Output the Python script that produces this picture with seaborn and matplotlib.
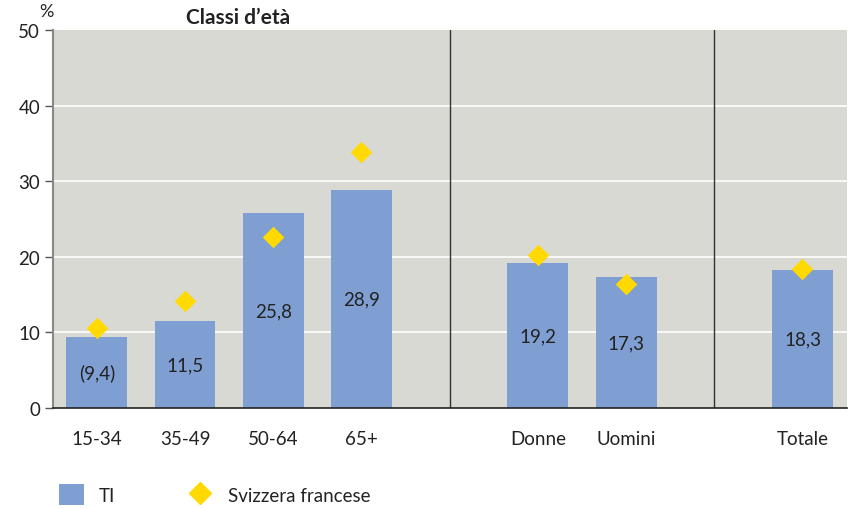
import pandas as pd
import matplotlib.pyplot as plt
import seaborn as sns
from matplotlib.patches import Patch
from matplotlib.lines import Line2D
from matplotlib.transforms import blended_transform_factory

# dati
categorie = ["15-34", "35-49", "50-64", "65+", "Donne", "Uomini", "Totale"]
valori_ti = [9.4, 11.5, 25.8, 28.9, 19.2, 17.3, 18.3]
valori_sf = [10.6, 14.1, 22.6, 33.9, 20.2, 16.4, 18.4]
etichette = ["(9,4)", "11,5", "25,8", "28,9", "19,2", "17,3", "18,3"]
ordine = ["15-34", "35-49", "50-64", "65+", "_g1", "Donne", "Uomini", "_g2", "Totale"]

COL_BAR = "#7f9fd3"
COL_DIAM = "#ffd900"
COL_BG = "#d8d9d3"
COL_TXT = "#222222"

sns.set_theme(style="white")
plt.rcParams["font.family"] = ["Lato", "DejaVu Sans"]
plt.rcParams["text.color"] = COL_TXT

df = pd.DataFrame({"cat": categorie, "TI": valori_ti, "SF": valori_sf})

fig = plt.figure(figsize=(8.5, 5.1), dpi=100)
ax = fig.add_axes([0.062, 0.198, 0.934, 0.741])
ax.set_facecolor(COL_BG)

sns.barplot(data=df, x="cat", y="TI", order=ordine, color=COL_BAR,
            width=0.69, saturation=1, linewidth=0, ax=ax, zorder=2)
ax.bar_label(ax.containers[0], labels=etichette, label_type="center",
             fontsize=13.5, color=COL_TXT)

sns.stripplot(data=df, x="cat", y="SF", order=ordine, color=COL_DIAM,
              marker="D", size=11, jitter=False, linewidth=0, ax=ax, zorder=3)

# griglia e separatori
for yv in [10, 20, 30, 40]:
    ax.axhline(yv, color="white", lw=1.2, zorder=1)
for xv in [4, 7]:
    ax.axvline(xv, color="#333333", lw=1, zorder=1)

ax.set_xlim(-0.5, 8.5)
ax.set_ylim(0, 50)
ax.set_yticks(range(0, 51, 10))
ax.set_xticks(range(9))
ax.set_xticklabels([c if not c.startswith("_") else "" for c in ordine])
ax.set_xlabel("")
ax.set_ylabel("")
ax.tick_params(axis="x", length=0, pad=16, labelsize=13.5, labelcolor=COL_TXT)
ax.tick_params(axis="y", length=6, width=1, color="#555555", direction="out",
               left=True, pad=3, labelsize=13.5, labelcolor=COL_TXT)

for s in ["top", "right"]:
    ax.spines[s].set_visible(False)
ax.spines["left"].set_color("#888888")
ax.spines["left"].set_linewidth(1.5)
ax.spines["bottom"].set_color("#222222")
ax.spines["bottom"].set_linewidth(1.2)

tr = blended_transform_factory(ax.transData, ax.transAxes)
ax.text(1.6, 1.008, "Classi d’età", transform=tr, ha="center", va="bottom",
        fontsize=15, fontweight="bold")
ax.text(-0.008, 1.03, "%", transform=ax.transAxes, ha="center", va="bottom",
        fontsize=13)

handles = [Patch(facecolor=COL_BAR, edgecolor="none"),
           Line2D([], [], marker="D", color=COL_DIAM, linestyle="none", markersize=11)]
fig.legend(handles, ["TI", "Svizzera francese"], loc="lower left",
           bbox_to_anchor=(0.05, -0.025), ncol=2, frameon=False, fontsize=13.5,
           handlelength=1.3, handleheight=1.3, handletextpad=0.8,
           columnspacing=3.9)

fig.savefig("out.png", dpi=100)
